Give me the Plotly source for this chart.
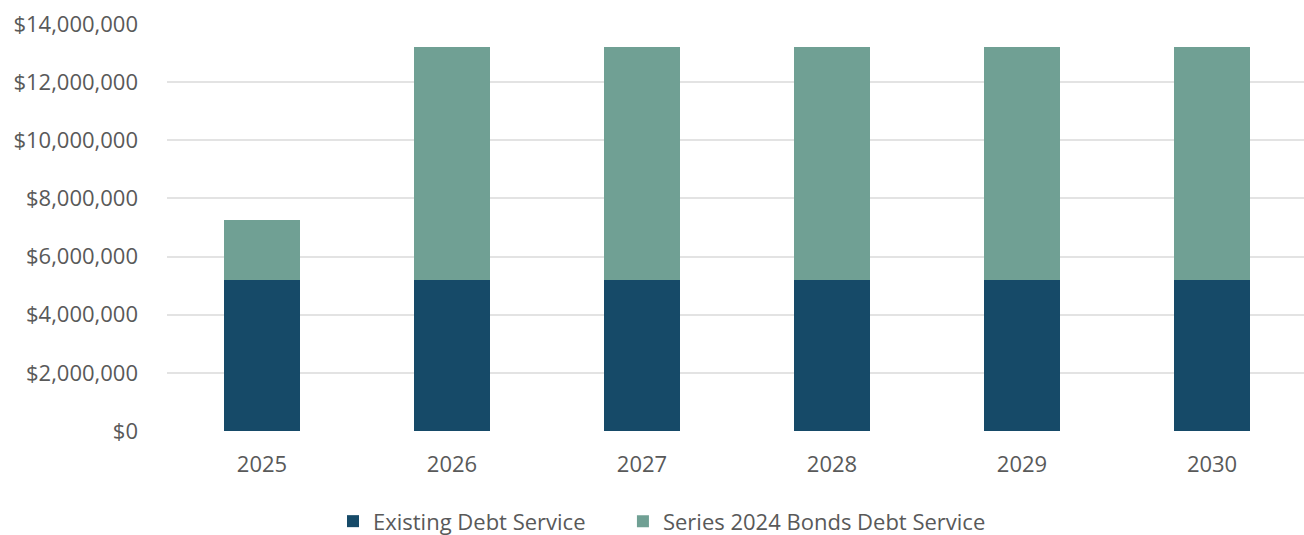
import plotly.graph_objects as go

years = ["2025", "2026", "2027", "2028", "2029", "2030"]
existing_debt_service = [5200000, 5200000, 5200000, 5200000, 5200000, 5200000]
series_2024_debt_service = [2060000, 8020000, 8020000, 8020000, 8020000, 8020000]

y_tick_values = [0, 2000000, 4000000, 6000000, 8000000, 10000000, 12000000, 14000000]
y_tick_labels = ["$0", "$2,000,000", "$4,000,000", "$6,000,000", "$8,000,000",
                 "$10,000,000", "$12,000,000", "$14,000,000"]

FONT = "Open Sans"
TEXT = "#595959"

fig = go.Figure()
fig.add_trace(go.Bar(
    x=years, y=existing_debt_service, name="Existing Debt Service",
    marker=dict(color="#164A68", line=dict(width=0)), width=0.4,
    legend="legend",
))
fig.add_trace(go.Bar(
    x=years, y=series_2024_debt_service, name="Series 2024 Bonds Debt Service",
    marker=dict(color="#70A094", line=dict(width=0)), width=0.4,
    legend="legend2",
))

legend_style = dict(
    orientation="h", xref="paper", xanchor="left",
    y=-0.222, yanchor="middle", font=dict(size=22, color=TEXT),
    itemwidth=30, tracegroupgap=0,
)

fig.update_layout(
    barmode="stack",
    width=1304, height=535,
    margin=dict(l=167, r=0, t=24, b=104, autoexpand=False),
    paper_bgcolor="white", plot_bgcolor="white",
    font=dict(family=FONT, size=22, color=TEXT),
    showlegend=True,
    legend=dict(x=0.146, **legend_style),
    legend2=dict(x=0.401, **legend_style),
    xaxis=dict(
        type="category", range=[-0.5, 5.484],
        showgrid=False, zeroline=False, showline=False,
        ticks="", ticklabelstandoff=18,
        tickfont=dict(size=22, color=TEXT),
    ),
    yaxis=dict(
        range=[0, 14000000], tickvals=y_tick_values, ticktext=y_tick_labels,
        showgrid=True, gridcolor="#E3E3E3", gridwidth=2,
        zeroline=False, showline=False, ticks="",
        ticklabelstandoff=28,
        tickfont=dict(size=22, color=TEXT),
    ),
)

fig.write_html("out.html")
